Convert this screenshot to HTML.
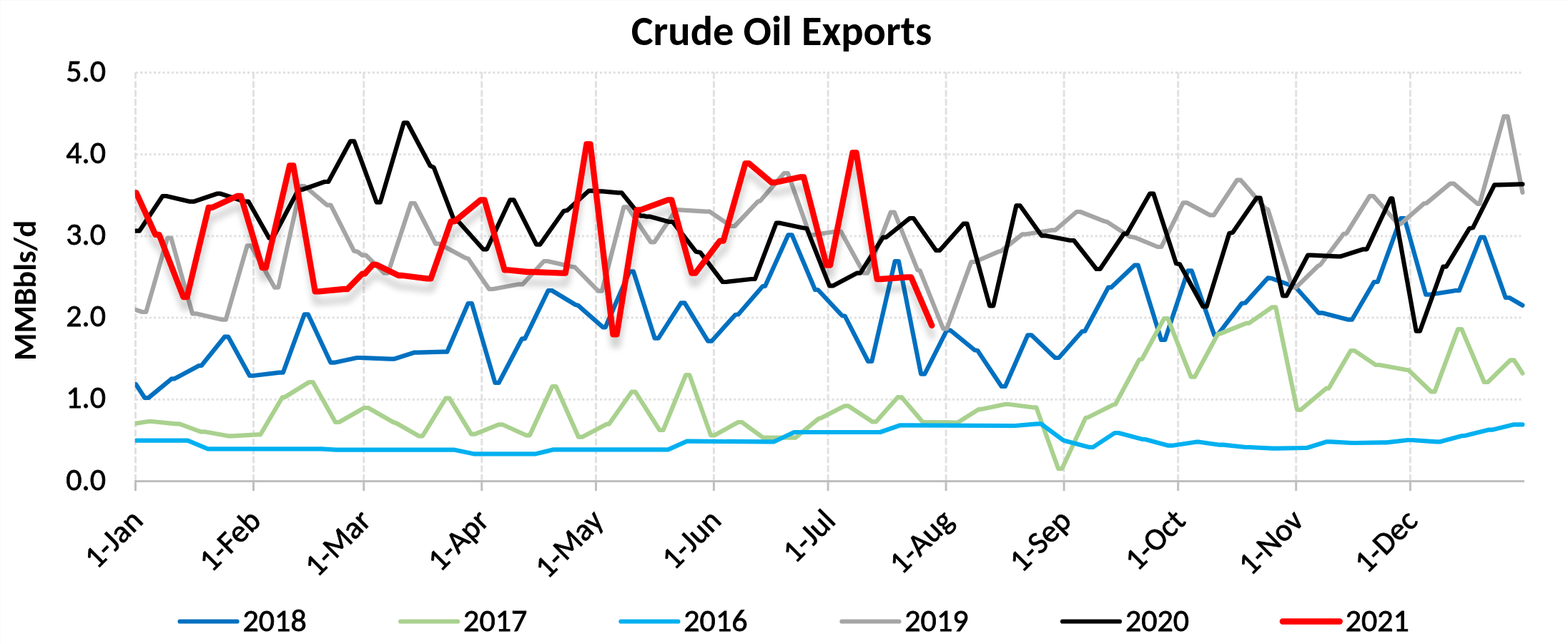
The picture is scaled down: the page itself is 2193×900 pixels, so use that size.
<!DOCTYPE html>
<html><head><meta charset="utf-8"><title>Crude Oil Exports</title>
<style>
html,body{margin:0;padding:0;background:#fff;}
body{width:2193px;height:900px;overflow:hidden;}
svg{display:block;}
text{font-family:Carlito,"Liberation Sans",sans-serif;fill:#000;}
.r{stroke:#000;stroke-width:0.8px;font-size-adjust:0.4775;}
.b{font-size-adjust:0.4849;}
</style></head><body>
<svg width="2193" height="900" viewBox="0 0 2193 900">
<defs>
<filter id="sh" x="-5%" y="-20%" width="110%" height="160%">
<feGaussianBlur in="SourceAlpha" stdDeviation="5"/>
<feOffset dx="1" dy="15" result="b"/>
<feComponentTransfer><feFuncA type="linear" slope="0.19"/></feComponentTransfer>
<feMerge><feMergeNode/><feMergeNode in="SourceGraphic"/></feMerge>
</filter>
<clipPath id="pa"><rect x="188.8" y="80" width="1960" height="620"/></clipPath>
</defs>
<rect width="2193" height="900" fill="#fff"/>
<path d="M0.5,900V0.5H2193" fill="none" stroke="#fafafa" stroke-width="1"/>

<line x1="190" y1="558.3" x2="2130" y2="558.3" stroke="#e1e1e1" stroke-width="3" stroke-dasharray="3.12 3.12"/>
<line x1="190" y1="444.1" x2="2130" y2="444.1" stroke="#e1e1e1" stroke-width="3" stroke-dasharray="3.12 3.12"/>
<line x1="190" y1="329.9" x2="2130" y2="329.9" stroke="#e1e1e1" stroke-width="3" stroke-dasharray="3.12 3.12"/>
<line x1="190" y1="215.7" x2="2130" y2="215.7" stroke="#e1e1e1" stroke-width="3" stroke-dasharray="3.12 3.12"/>
<line x1="190" y1="101.5" x2="2130" y2="101.5" stroke="#e1e1e1" stroke-width="3" stroke-dasharray="3.12 3.12"/>
<line x1="189.5" y1="100.8" x2="189.5" y2="671" stroke="#e1e1e1" stroke-width="3" stroke-dasharray="9.37 3.12"/>
<line x1="354.5" y1="100.8" x2="354.5" y2="671" stroke="#e1e1e1" stroke-width="3" stroke-dasharray="9.37 3.12"/>
<line x1="508.8" y1="100.8" x2="508.8" y2="671" stroke="#e1e1e1" stroke-width="3" stroke-dasharray="9.37 3.12"/>
<line x1="673.8" y1="100.8" x2="673.8" y2="671" stroke="#e1e1e1" stroke-width="3" stroke-dasharray="9.37 3.12"/>
<line x1="833.5" y1="100.8" x2="833.5" y2="671" stroke="#e1e1e1" stroke-width="3" stroke-dasharray="9.37 3.12"/>
<line x1="998.4" y1="100.8" x2="998.4" y2="671" stroke="#e1e1e1" stroke-width="3" stroke-dasharray="9.37 3.12"/>
<line x1="1158.1" y1="100.8" x2="1158.1" y2="671" stroke="#e1e1e1" stroke-width="3" stroke-dasharray="9.37 3.12"/>
<line x1="1323.1" y1="100.8" x2="1323.1" y2="671" stroke="#e1e1e1" stroke-width="3" stroke-dasharray="9.37 3.12"/>
<line x1="1488.1" y1="100.8" x2="1488.1" y2="671" stroke="#e1e1e1" stroke-width="3" stroke-dasharray="9.37 3.12"/>
<line x1="1647.7" y1="100.8" x2="1647.7" y2="671" stroke="#e1e1e1" stroke-width="3" stroke-dasharray="9.37 3.12"/>
<line x1="1812.7" y1="100.8" x2="1812.7" y2="671" stroke="#e1e1e1" stroke-width="3" stroke-dasharray="9.37 3.12"/>
<line x1="1972.4" y1="100.8" x2="1972.4" y2="671" stroke="#e1e1e1" stroke-width="3" stroke-dasharray="9.37 3.12"/>
<line x1="188" y1="672.5" x2="2132" y2="672.5" stroke="#bfbfbf" stroke-width="3"/>
<line x1="189.5" y1="671" x2="189.5" y2="686" stroke="#bfbfbf" stroke-width="3"/>
<line x1="354.5" y1="671" x2="354.5" y2="686" stroke="#bfbfbf" stroke-width="3"/>
<line x1="508.8" y1="671" x2="508.8" y2="686" stroke="#bfbfbf" stroke-width="3"/>
<line x1="673.8" y1="671" x2="673.8" y2="686" stroke="#bfbfbf" stroke-width="3"/>
<line x1="833.5" y1="671" x2="833.5" y2="686" stroke="#bfbfbf" stroke-width="3"/>
<line x1="998.4" y1="671" x2="998.4" y2="686" stroke="#bfbfbf" stroke-width="3"/>
<line x1="1158.1" y1="671" x2="1158.1" y2="686" stroke="#bfbfbf" stroke-width="3"/>
<line x1="1323.1" y1="671" x2="1323.1" y2="686" stroke="#bfbfbf" stroke-width="3"/>
<line x1="1488.1" y1="671" x2="1488.1" y2="686" stroke="#bfbfbf" stroke-width="3"/>
<line x1="1647.7" y1="671" x2="1647.7" y2="686" stroke="#bfbfbf" stroke-width="3"/>
<line x1="1812.7" y1="671" x2="1812.7" y2="686" stroke="#bfbfbf" stroke-width="3"/>
<line x1="1972.4" y1="671" x2="1972.4" y2="686" stroke="#bfbfbf" stroke-width="3"/>
<text x="148" y="684.5" class="r" font-size="44" text-anchor="end" textLength="55.72" lengthAdjust="spacingAndGlyphs">0.0</text>
<text x="148" y="570.3" class="r" font-size="44" text-anchor="end" textLength="55.72" lengthAdjust="spacingAndGlyphs">1.0</text>
<text x="148" y="456.1" class="r" font-size="44" text-anchor="end" textLength="55.72" lengthAdjust="spacingAndGlyphs">2.0</text>
<text x="148" y="341.9" class="r" font-size="44" text-anchor="end" textLength="55.72" lengthAdjust="spacingAndGlyphs">3.0</text>
<text x="148" y="227.7" class="r" font-size="44" text-anchor="end" textLength="55.72" lengthAdjust="spacingAndGlyphs">4.0</text>
<text x="148" y="113.5" class="r" font-size="44" text-anchor="end" textLength="55.72" lengthAdjust="spacingAndGlyphs">5.0</text>
<text transform="translate(202.0,730.0) rotate(-45)" class="r" font-size="44" text-anchor="end" textLength="94" lengthAdjust="spacingAndGlyphs">1-Jan</text>
<text transform="translate(367.0,730.0) rotate(-45)" class="r" font-size="44" text-anchor="end" textLength="100.36" lengthAdjust="spacingAndGlyphs">1-Feb</text>
<text transform="translate(521.3,730.0) rotate(-45)" class="r" font-size="44" text-anchor="end" textLength="109.81" lengthAdjust="spacingAndGlyphs">1-Mar</text>
<text transform="translate(686.3,730.0) rotate(-45)" class="r" font-size="44" text-anchor="end" textLength="99.69" lengthAdjust="spacingAndGlyphs">1-Apr</text>
<text transform="translate(846.0,730.0) rotate(-45)" class="r" font-size="44" text-anchor="end" textLength="113.58" lengthAdjust="spacingAndGlyphs">1-May</text>
<text transform="translate(1010.9,730.0) rotate(-45)" class="r" font-size="44" text-anchor="end" textLength="96.05" lengthAdjust="spacingAndGlyphs">1-Jun</text>
<text transform="translate(1170.6,730.0) rotate(-45)" class="r" font-size="44" text-anchor="end" textLength="83.02" lengthAdjust="spacingAndGlyphs">1-Jul</text>
<text transform="translate(1335.6,730.0) rotate(-45)" class="r" font-size="44" text-anchor="end" textLength="105.06" lengthAdjust="spacingAndGlyphs">1-Aug</text>
<text transform="translate(1500.6,730.0) rotate(-45)" class="r" font-size="44" text-anchor="end" textLength="101" lengthAdjust="spacingAndGlyphs">1-Sep</text>
<text transform="translate(1660.2,730.0) rotate(-45)" class="r" font-size="44" text-anchor="end" textLength="98.25" lengthAdjust="spacingAndGlyphs">1-Oct</text>
<text transform="translate(1825.2,730.0) rotate(-45)" class="r" font-size="44" text-anchor="end" textLength="107.06" lengthAdjust="spacingAndGlyphs">1-Nov</text>
<text transform="translate(1984.9,730.0) rotate(-45)" class="r" font-size="44" text-anchor="end" textLength="103.34" lengthAdjust="spacingAndGlyphs">1-Dec</text>
<g clip-path="url(#pa)">
<polyline points="190.0,537.0 202.4,556.0 207.6,556.0 240.0,529.3 244.0,529.3 278.3,511.0 281.7,511.0 314.1,470.7 319.3,470.7 349.1,525.0 354.3,525.0 390.7,520.7 395.9,520.7 425.7,439.3 430.9,439.3 462.4,506.7 467.6,506.7 499.1,500.0 504.3,500.0 545.7,501.7 550.9,501.7 579.1,492.7 584.3,492.7 620.1,491.7 625.3,491.7 654.7,424.0 659.9,424.0 692.4,535.0 697.6,535.0 730.0,473.3 734.0,473.3 766.7,406.0 771.9,406.0 805.0,426.0 808.3,426.7 843.3,457.3 846.7,457.3 880.7,379.3 885.9,379.3 915.7,472.7 920.9,472.7 952.4,423.3 957.6,423.3 990.1,476.7 995.3,476.7 1028.3,440.0 1032.7,439.3 1066.7,400.0 1070.0,400.0 1102.4,328.3 1107.6,328.3 1140.0,405.0 1144.0,405.0 1177.3,440.7 1181.7,441.7 1214.1,505.0 1219.3,505.0 1251.7,365.0 1256.9,365.0 1288.1,522.7 1293.3,522.7 1324.1,461.7 1329.3,461.7 1363.3,489.3 1367.3,490.0 1400.7,540.0 1405.9,540.0 1437.4,468.3 1442.6,468.3 1475.7,500.0 1480.9,500.0 1513.3,463.3 1517.3,462.7 1550.0,401.7 1554.0,401.7 1586.7,370.7 1591.7,370.7 1624.1,475.0 1629.3,475.0 1661.4,378.3 1666.6,378.3 1698.3,468.3 1704.0,466.7 1736.7,424.0 1741.7,423.3 1773.3,388.3 1779.3,389.3 1804.1,398.3 1809.3,398.3 1844.1,437.3 1849.3,437.3 1885.7,446.7 1890.9,446.7 1921.7,394.0 1926.7,394.0 1959.1,305.0 1964.3,305.0 1994.1,411.7 1999.3,411.7 2035.7,406.0 2040.9,406.0 2070.7,331.7 2075.9,331.7 2105.7,416.0 2110.9,416.0 2129.4,426.7" fill="none" stroke="#0070c0" stroke-width="6.2" stroke-linejoin="round" stroke-linecap="round" />
<polyline points="190.0,591.7 207.4,589.0 212.6,589.0 245.7,592.3 250.9,592.3 280.7,603.3 285.9,603.3 319.1,609.3 324.3,609.3 359.1,607.3 364.3,607.3 395.0,555.0 398.3,555.0 432.4,534.0 437.6,534.0 469.1,590.0 474.3,590.0 509.3,570.0 515.0,570.0 550.0,590.0 555.0,591.7 585.7,609.3 590.9,609.3 623.4,556.7 628.6,556.7 659.1,606.7 664.3,606.7 697.4,593.3 702.6,593.3 735.7,608.3 740.9,608.3 772.4,540.0 777.6,540.0 809.1,610.7 814.3,610.7 848.3,592.7 851.7,592.7 883.4,547.7 888.6,547.7 922.4,601.0 927.6,601.0 959.1,524.0 964.3,524.0 994.1,608.3 999.3,608.3 1032.4,590.0 1037.6,590.0 1067.4,611.7 1072.6,611.7 1107.4,611.7 1112.6,611.7 1145.0,585.0 1148.3,584.3 1181.4,567.3 1186.6,567.3 1220.1,589.3 1225.3,589.3 1255.7,555.0 1260.9,555.0 1290.7,590.0 1295.9,590.0 1319.1,590.0 1324.3,590.0 1334.1,590.7 1339.3,590.7 1368.3,572.3 1373.3,571.7 1405.7,565.0 1410.9,565.0 1444.1,569.3 1449.3,569.3 1480.1,655.0 1485.3,655.0 1518.3,584.0 1521.7,583.3 1556.7,565.7 1560.0,565.0 1593.3,502.7 1597.3,501.7 1628.1,445.0 1633.3,445.0 1665.7,526.7 1670.9,526.7 1703.3,466.7 1707.3,466.0 1743.3,451.7 1746.7,451.7 1779.1,429.3 1784.3,429.3 1814.1,572.7 1819.3,572.7 1855.0,542.7 1858.3,542.7 1889.1,490.0 1894.3,490.0 1924.1,510.0 1929.3,510.0 1966.0,516.7 1970.0,517.3 2001.4,547.3 2006.6,547.3 2039.1,460.0 2044.3,460.0 2075.7,534.0 2080.9,534.0 2112.4,503.3 2117.6,503.3 2129.4,521.7" fill="none" stroke="#a9d18e" stroke-width="6.2" stroke-linejoin="round" stroke-linecap="round" />
<polyline points="190.0,615.7 257.4,615.7 262.6,615.7 290.7,627.3 295.9,627.3 444.1,627.3 449.3,627.3 470.7,628.7 475.9,628.7 630.7,628.7 635.9,628.7 662.4,634.3 667.6,634.3 744.1,634.3 749.3,634.3 774.1,628.3 779.3,628.3 929.1,628.3 934.3,628.3 960.7,616.7 965.9,616.7 1077.4,617.3 1082.6,617.3 1110.7,604.0 1115.9,604.0 1225.7,604.0 1230.9,604.0 1259.1,594.3 1264.3,594.3 1414.1,595.0 1419.3,595.0 1450.7,592.3 1455.9,592.3 1486.7,615.0 1489.3,616.0 1523.4,625.0 1528.6,625.0 1559.1,605.0 1564.3,605.0 1598.3,614.0 1601.7,614.0 1634.1,622.7 1639.3,622.7 1672.4,617.7 1677.6,617.7 1705.7,621.7 1710.9,621.7 1742.4,625.0 1747.6,625.0 1780.7,626.7 1785.9,626.7 1822.4,626.0 1827.6,626.0 1855.7,617.3 1860.9,617.3 1890.7,619.0 1895.9,619.0 1934.1,618.3 1939.3,618.3 1969.1,615.0 1974.3,615.0 2009.1,617.3 2014.3,617.3 2045.0,609.0 2048.3,609.0 2081.7,600.7 2086.7,600.7 2117.4,593.3 2122.6,593.3 2129.4,593.3" fill="none" stroke="#00b0f0" stroke-width="6.2" stroke-linejoin="round" stroke-linecap="round" />
<polyline points="190.0,433.0 199.1,436.0 204.3,436.0 234.1,332.7 239.3,332.7 269.1,438.3 274.3,438.3 310.7,446.7 315.9,446.7 345.7,343.3 350.9,343.3 384.1,401.7 389.3,401.7 420.7,260.0 425.9,260.0 457.4,286.7 462.6,286.7 495.0,350.7 500.0,351.7 506.7,356.7 511.9,356.7 537.4,381.7 542.6,381.7 574.7,284.0 579.9,284.0 609.1,340.7 614.3,340.7 650.0,360.0 655.0,361.7 684.1,404.0 689.3,404.0 725.7,397.3 730.9,397.3 760.7,365.0 765.9,365.0 800.0,372.7 804.0,373.3 836.7,406.7 841.9,406.7 872.4,289.3 877.6,289.3 910.1,338.3 915.3,338.3 945.7,293.3 950.9,293.3 987.4,295.7 992.6,295.7 1022.4,316.0 1027.6,316.0 1060.0,281.7 1063.3,280.7 1096.7,242.0 1101.9,242.0 1132.4,328.3 1137.6,328.3 1170.7,323.3 1175.9,323.3 1208.1,381.7 1213.3,381.7 1245.7,296.7 1250.9,296.7 1283.3,377.3 1286.7,378.3 1319.1,459.3 1324.3,459.3 1358.3,366.0 1363.3,366.0 1396.7,351.7 1400.0,351.0 1430.1,327.3 1435.3,327.3 1470.7,321.7 1475.9,321.7 1505.7,296.0 1510.9,296.0 1545.0,309.3 1548.3,310.0 1580.0,330.7 1586.7,331.7 1619.1,345.0 1624.3,345.0 1654.7,283.3 1659.9,283.3 1692.4,300.7 1697.6,300.7 1730.1,251.7 1735.3,251.7 1770.0,291.7 1773.3,292.7 1807.4,401.7 1812.6,401.7 1843.3,371.7 1846.7,370.0 1879.3,326.7 1883.3,326.0 1915.7,274.0 1920.9,274.0 1955.0,312.7 1959.3,312.7 1991.7,284.3 1995.0,284.0 2028.1,256.7 2033.3,256.7 2066.7,285.0 2069.3,285.0 2103.4,162.7 2108.6,162.7 2129.4,269.0" fill="none" stroke="#a5a5a5" stroke-width="6.2" stroke-linejoin="round" stroke-linecap="round" />
<polyline points="190.0,322.7 195.0,322.7 227.4,274.0 232.6,274.0 265.7,281.7 270.9,281.7 303.4,270.7 308.6,270.7 342.4,281.7 347.6,281.7 376.4,332.7 381.6,332.7 417.4,265.0 422.6,265.0 454.1,254.0 459.3,254.0 490.1,197.3 495.3,197.3 526.7,282.7 531.9,282.7 564.7,171.7 569.9,171.7 601.7,231.7 606.7,234.0 635.7,309.3 640.9,309.3 675.7,348.3 680.9,348.3 713.4,279.3 718.6,279.3 750.1,341.7 755.3,341.7 788.3,295.0 793.3,294.0 823.4,266.7 828.6,266.7 837.4,267.3 842.6,267.3 864.1,269.3 869.3,269.3 895.7,301.7 900.9,301.7 904.1,302.7 909.3,302.7 935.7,310.0 940.9,310.0 973.3,351.7 979.3,352.7 1010.7,394.0 1015.9,394.0 1050.7,390.0 1055.9,390.0 1085.7,311.7 1090.9,311.7 1121.7,318.3 1128.3,319.3 1160.1,399.3 1165.3,399.3 1198.3,381.7 1203.3,381.7 1235.0,331.7 1239.3,331.7 1272.4,305.0 1277.6,305.0 1309.1,350.0 1314.3,350.0 1347.4,312.7 1352.6,312.7 1384.1,427.3 1389.3,427.3 1421.4,287.3 1426.6,287.3 1456.7,329.3 1461.9,329.3 1496.7,336.0 1501.9,336.0 1533.4,376.0 1538.6,376.0 1571.7,326.7 1576.0,326.7 1608.1,270.7 1613.3,270.7 1645.0,368.3 1650.0,369.3 1682.4,428.3 1687.6,428.3 1719.3,326.0 1724.0,325.0 1757.4,276.7 1762.6,276.7 1794.1,413.3 1799.3,413.3 1829.1,356.7 1834.3,356.7 1870.1,358.3 1875.3,358.3 1906.7,348.3 1911.7,348.3 1945.0,277.3 1947.3,277.3 1980.7,462.7 1985.9,462.7 2018.3,372.7 2022.7,372.7 2055.0,319.3 2060.0,318.3 2090.1,258.3 2095.3,258.3 2129.4,257.3" fill="none" stroke="#000000" stroke-width="6.2" stroke-linejoin="round" stroke-linecap="round" />
<polyline points="190.5,269.3 217.4,328.0 222.6,328.0 256.4,415.0 261.6,415.0 291.7,290.0 296.9,290.0 331.7,274.0 336.9,274.0 366.7,374.0 371.9,374.0 405.1,231.5 410.3,231.5 440.7,407.3 445.9,407.3 480.7,404.0 485.9,404.0 506.7,382.7 510.0,382.7 521.4,370.0 526.6,370.0 557.4,385.0 562.6,385.0 597.4,389.3 602.6,389.3 630.7,309.3 635.9,309.3 672.4,279.3 677.6,279.3 705.7,377.3 710.9,377.3 737.4,380.0 742.6,380.0 785.7,381.7 790.9,381.7 820.4,201.3 825.6,201.3 857.4,467.3 862.6,467.3 890.7,293.3 895.9,293.3 934.1,279.3 939.3,279.3 967.4,381.7 972.6,381.7 1006.7,336.7 1011.7,336.7 1042.4,228.3 1047.6,228.3 1079.1,255.0 1084.3,255.0 1118.9,247.5 1124.1,247.5 1155.9,370.5 1161.1,370.5 1192.4,213.5 1197.6,213.5 1226.7,390.0 1231.9,390.0 1269.1,387.3 1274.3,387.3 1303.3,455.0" fill="none" stroke="#ff0000" stroke-width="8.3" stroke-linejoin="round" stroke-linecap="round" filter="url(#sh)"/>
</g>
<text x="1093" y="63" class="b" font-size="58.4" font-weight="bold" text-anchor="middle" textLength="420.63" lengthAdjust="spacingAndGlyphs">Crude Oil Exports</text>
<text transform="translate(49.5,406) rotate(-90)" class="b" font-size="44" font-weight="bold" text-anchor="middle" textLength="196.08" lengthAdjust="spacingAndGlyphs">MMBbls/d</text>
<line x1="251.6" y1="868.5" x2="331.6" y2="868.5" stroke="#0070c0" stroke-width="6.2" stroke-linecap="round"/>
<text x="339.5" y="881.5" class="r" font-size="44" textLength="89.2" lengthAdjust="spacingAndGlyphs">2018</text>
<line x1="560.2" y1="868.5" x2="640.2" y2="868.5" stroke="#a9d18e" stroke-width="6.2" stroke-linecap="round"/>
<text x="648.1" y="881.5" class="r" font-size="44" textLength="89.2" lengthAdjust="spacingAndGlyphs">2017</text>
<line x1="868.4" y1="868.5" x2="948.4" y2="868.5" stroke="#00b0f0" stroke-width="6.2" stroke-linecap="round"/>
<text x="956.3" y="881.5" class="r" font-size="44" textLength="89.2" lengthAdjust="spacingAndGlyphs">2016</text>
<line x1="1177.4" y1="868.5" x2="1257.4" y2="868.5" stroke="#a5a5a5" stroke-width="6.2" stroke-linecap="round"/>
<text x="1265.3" y="881.5" class="r" font-size="44" textLength="89.2" lengthAdjust="spacingAndGlyphs">2019</text>
<line x1="1486.0" y1="868.5" x2="1566.0" y2="868.5" stroke="#000000" stroke-width="6.2" stroke-linecap="round"/>
<text x="1573.9" y="881.5" class="r" font-size="44" textLength="89.2" lengthAdjust="spacingAndGlyphs">2020</text>
<line x1="1793.8" y1="868.5" x2="1873.8" y2="868.5" stroke="#ff0000" stroke-width="8.3" stroke-linecap="round"/>
<text x="1881.7" y="881.5" class="r" font-size="44" textLength="89.2" lengthAdjust="spacingAndGlyphs">2021</text>
</svg>
</body></html>
